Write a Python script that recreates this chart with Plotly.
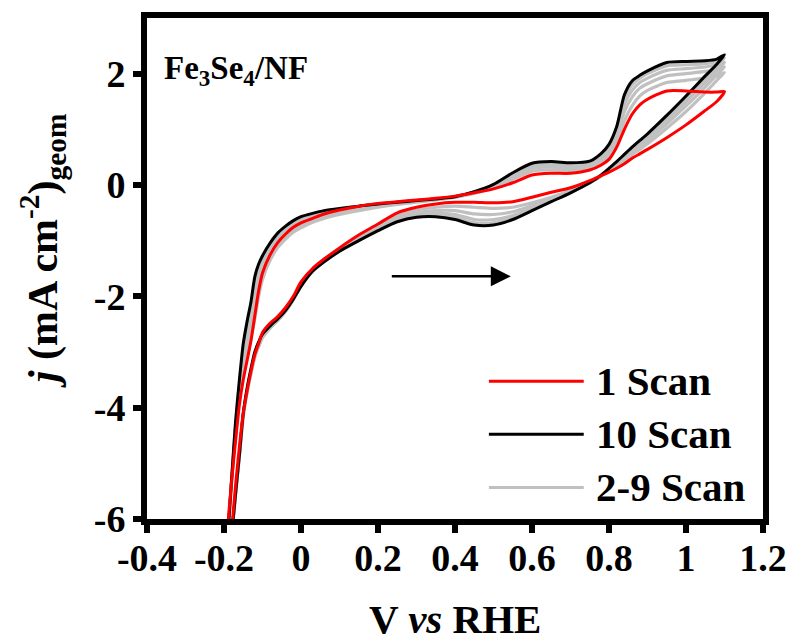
import plotly.graph_objects as go

# Potential grid shared by every sweep (V vs RHE)
E = [-0.19, -0.18, -0.17, -0.16, -0.15, -0.14, -0.13, -0.12, -0.11, -0.10,
     -0.08, -0.06, -0.04, -0.02, 0.00, 0.03, 0.06, 0.10, 0.15, 0.20,
     0.25, 0.30, 0.35, 0.40, 0.45, 0.50, 0.55, 0.60, 0.65, 0.70,
     0.75, 0.78, 0.80, 0.82, 0.84, 0.86, 0.88, 0.90, 0.95, 1.00,
     1.05, 1.08, 1.10]

# Scan 1: upper (fwd) and lower (rev) branches, both listed on ascending E
j1_fwd = [-6.1, -5.3, -4.6, -3.95, -3.5, -3.15, -2.8, -2.35, -1.9, -1.58,
          -1.25, -1.03, -0.88, -0.76, -0.68, -0.60, -0.52, -0.45, -0.38, -0.33,
          -0.30, -0.27, -0.24, -0.20, -0.14, -0.07, 0.04, 0.18, 0.21, 0.21,
          0.27, 0.36, 0.46, 0.68, 1.00, 1.27, 1.44, 1.54, 1.69, 1.69,
          1.67, 1.67, 1.68]
j1_rev = [-7.0, -6.2, -5.4, -4.7, -4.1, -3.7, -3.35, -3.05, -2.85, -2.65,
          -2.48, -2.36, -2.20, -2.00, -1.74, -1.50, -1.33, -1.13, -0.90, -0.70,
          -0.50, -0.40, -0.34, -0.31, -0.31, -0.32, -0.30, -0.22, -0.13, -0.05,
          0.08, 0.17, 0.23, 0.30, 0.38, 0.48, 0.56, 0.64, 0.85, 1.08,
          1.34, 1.50, 1.68]

# Scan 10
j10_fwd = [-6.3, -5.25, -4.25, -3.5, -2.85, -2.45, -2.1, -1.65, -1.42, -1.27,
           -1.04, -0.86, -0.74, -0.64, -0.57, -0.51, -0.46, -0.42, -0.38, -0.34,
           -0.31, -0.28, -0.25, -0.21, -0.12, 0.01, 0.22, 0.39, 0.42, 0.40,
           0.43, 0.57, 0.73, 1.05, 1.62, 1.87, 1.97, 2.05, 2.20, 2.22,
           2.23, 2.26, 2.34]
j10_rev = [-7.2, -6.3, -5.55, -4.85, -4.1, -3.65, -3.3, -3.0, -2.82, -2.68,
           -2.53, -2.40, -2.25, -2.05, -1.82, -1.55, -1.38, -1.19, -1.00, -0.82,
           -0.66, -0.58, -0.57, -0.62, -0.72, -0.72, -0.62, -0.46, -0.30, -0.14,
           0.04, 0.18, 0.30, 0.42, 0.55, 0.68, 0.80, 0.92, 1.25, 1.60,
           1.96, 2.17, 2.34]

# Intermediate scans (2-9)
jm1_fwd = [-6.2, -5.3, -4.5, -3.85, -3.4, -3.05, -2.75, -2.4, -2.0, -1.7,
           -1.35, -1.12, -0.97, -0.85, -0.77, -0.67, -0.60, -0.53, -0.46, -0.40,
           -0.35, -0.31, -0.27, -0.22, -0.15, -0.06, 0.10, 0.25, 0.27, 0.26,
           0.30, 0.40, 0.52, 0.78, 1.15, 1.42, 1.60, 1.70, 1.84, 1.88,
           1.92, 1.96, 2.02]
jm1_rev = [-7.2, -6.3, -5.55, -4.85, -4.15, -3.72, -3.38, -3.08, -2.88, -2.72,
           -2.54, -2.40, -2.24, -2.03, -1.78, -1.52, -1.35, -1.15, -0.93, -0.74,
           -0.55, -0.45, -0.40, -0.38, -0.40, -0.42, -0.40, -0.32, -0.22, -0.10,
           0.04, 0.16, 0.25, 0.34, 0.44, 0.55, 0.64, 0.74, 1.02, 1.32,
           1.66, 1.88, 2.02]
jm2_fwd = [-6.25, -5.3, -4.45, -3.75, -3.25, -2.9, -2.55, -2.2, -1.8, -1.55,
           -1.25, -1.05, -0.91, -0.80, -0.72, -0.63, -0.56, -0.50, -0.43, -0.38,
           -0.34, -0.30, -0.26, -0.22, -0.14, -0.04, 0.14, 0.30, 0.32, 0.31,
           0.35, 0.46, 0.60, 0.88, 1.32, 1.58, 1.74, 1.82, 1.96, 2.00,
           2.04, 2.08, 2.12]
jm2_rev = [-7.2, -6.3, -5.55, -4.85, -4.15, -3.72, -3.38, -3.08, -2.90, -2.74,
           -2.56, -2.42, -2.26, -2.05, -1.80, -1.53, -1.36, -1.17, -0.96, -0.77,
           -0.59, -0.50, -0.46, -0.46, -0.52, -0.53, -0.48, -0.37, -0.25, -0.12,
           0.04, 0.17, 0.27, 0.37, 0.48, 0.60, 0.70, 0.80, 1.10, 1.42,
           1.76, 1.98, 2.12]
jm3_fwd = [-6.3, -5.3, -4.4, -3.65, -3.1, -2.75, -2.35, -1.95, -1.6, -1.42,
           -1.15, -0.97, -0.84, -0.74, -0.66, -0.58, -0.52, -0.46, -0.41, -0.36,
           -0.33, -0.29, -0.26, -0.21, -0.13, -0.02, 0.17, 0.34, 0.36, 0.35,
           0.38, 0.50, 0.66, 0.96, 1.45, 1.70, 1.84, 1.92, 2.06, 2.09,
           2.12, 2.16, 2.20]
jm3_rev = [-7.2, -6.3, -5.55, -4.85, -4.13, -3.70, -3.36, -3.07, -2.90, -2.74,
           -2.57, -2.43, -2.27, -2.06, -1.81, -1.54, -1.37, -1.18, -0.98, -0.80,
           -0.62, -0.54, -0.51, -0.53, -0.62, -0.62, -0.55, -0.41, -0.27, -0.13,
           0.04, 0.17, 0.28, 0.40, 0.52, 0.64, 0.75, 0.86, 1.17, 1.50,
           1.84, 2.06, 2.20]
jm4_fwd = [-6.3, -5.3, -4.35, -3.6, -3.0, -2.6, -2.2, -1.8, -1.52, -1.35,
           -1.10, -0.92, -0.79, -0.69, -0.61, -0.54, -0.49, -0.44, -0.39, -0.35,
           -0.32, -0.29, -0.25, -0.21, -0.12, 0.00, 0.20, 0.37, 0.40, 0.38,
           0.41, 0.54, 0.70, 1.01, 1.55, 1.80, 1.92, 2.00, 2.14, 2.16,
           2.18, 2.22, 2.28]
jm4_rev = [-7.2, -6.3, -5.55, -4.85, -4.12, -3.68, -3.34, -3.05, -2.88, -2.72,
           -2.56, -2.43, -2.27, -2.06, -1.82, -1.55, -1.38, -1.19, -1.00, -0.82,
           -0.65, -0.57, -0.55, -0.58, -0.68, -0.68, -0.59, -0.44, -0.29, -0.14,
           0.04, 0.18, 0.29, 0.41, 0.54, 0.67, 0.78, 0.90, 1.22, 1.56,
           1.91, 2.13, 2.28]

x_ticks = [-0.4, -0.2, 0.0, 0.2, 0.4, 0.6, 0.8, 1.0, 1.2]
x_labels = ["-0.4", "-0.2", "0", "0.2", "0.4", "0.6", "0.8", "1", "1.2"]
y_ticks = [-6, -4, -2, 0, 2]
y_labels = ["-6", "-4", "-2", "0", "2"]

legend_names = ["1 Scan", "10 Scan", "2-9 Scan"]
RED, BLACK, GREY = "#ff0000", "#000000", "#c0c0c0"
FONT = "Liberation Serif, Times New Roman, serif"


def loop(fwd, rev):
    """Join the upper sweep and the return sweep into one closed CV path."""
    xs = E + E[::-1][1:]
    ys = fwd + rev[::-1][1:]
    return xs, ys


fig = go.Figure()

for fwd, rev in [(jm1_fwd, jm1_rev), (jm2_fwd, jm2_rev),
                 (jm3_fwd, jm3_rev), (jm4_fwd, jm4_rev)]:
    xs, ys = loop(fwd, rev)
    fig.add_trace(go.Scatter(x=xs, y=ys, mode="lines",
                             line=dict(color=GREY, width=3.2, shape="spline", smoothing=0.7),
                             showlegend=False, hoverinfo="skip"))

for fwd, rev, col in [(j10_fwd, j10_rev, BLACK), (j1_fwd, j1_rev, RED)]:
    xs, ys = loop(fwd, rev)
    fig.add_trace(go.Scatter(x=xs, y=ys, mode="lines",
                             line=dict(color=col, width=3, shape="spline", smoothing=0.7),
                             showlegend=False, hoverinfo="skip"))

axis_common = dict(
    showline=True, linewidth=6, linecolor="black", mirror=True,
    ticks="outside", ticklen=8, tickwidth=6, tickcolor="black",
    showgrid=False, zeroline=False,
    tickfont=dict(family=FONT, size=38, color="black", weight="bold"),
)

fig.update_xaxes(range=[-0.4, 1.2], tickmode="array", tickvals=x_ticks,
                 ticktext=x_labels, ticklabelstandoff=-8, **axis_common)
fig.update_yaxes(range=[-6, 3], tickmode="array", tickvals=y_ticks,
                 ticktext=y_labels, **axis_common)

annotations = [
    dict(text="Fe<sub>3</sub>Se<sub>4</sub>/NF", xref="paper", yref="paper",
         x=0.025, y=0.94, xanchor="left", yanchor="top", showarrow=False,
         font=dict(family=FONT, size=33, color="black", weight="bold")),
    dict(text="V <i>vs</i> RHE", xref="paper", yref="paper",
         x=0.5, y=-0.2, xanchor="center", yanchor="middle", showarrow=False,
         font=dict(family=FONT, size=41, color="black", weight="bold")),
    dict(text="<i>j</i> (mA cm<sup>-2</sup>)<sub>geom</sub>", xref="paper", yref="paper",
         x=-0.17, y=0.535, xanchor="center", yanchor="middle", textangle=-90,
         showarrow=False,
         font=dict(family=FONT, size=42, color="black", weight="bold")),
    # sweep direction arrow
    dict(x=0.545, y=-1.64, ax=0.232, ay=-1.64, xref="x", yref="y",
         axref="x", ayref="y", text="", showarrow=True, arrowhead=2,
         arrowsize=1.6, arrowwidth=2.5, arrowcolor="black"),
]

shapes = []
legend_rows = [0.275, 0.169, 0.063]
for name, col, yy in zip(legend_names, [RED, BLACK, GREY], legend_rows):
    shapes.append(dict(type="line", xref="paper", yref="paper",
                       x0=0.555, x1=0.709, y0=yy, y1=yy,
                       line=dict(color=col, width=3)))
    annotations.append(dict(text=name, xref="paper", yref="paper",
                            x=0.725, y=yy, xanchor="left", yanchor="middle",
                            showarrow=False,
                            font=dict(family=FONT, size=41, color="black", weight="bold")))

fig.update_layout(
    width=799, height=642,
    margin=dict(l=147, r=34, t=18, b=123),
    plot_bgcolor="white", paper_bgcolor="white",
    showlegend=False,
    annotations=annotations, shapes=shapes,
)

fig.write_html("out.html")
